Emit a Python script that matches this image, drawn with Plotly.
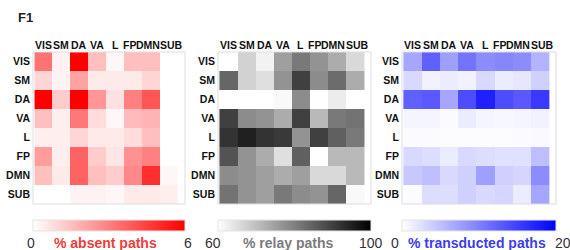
import plotly.graph_objects as go

networks = ["VIS", "SM", "DA", "VA", "L", "FP", "DMN", "SUB"]
# small horizontal nudges (px) of the printed column labels, which are unevenly spaced in the original
col_label_shift = [0, 0, 0, 0, 0, -4, -3.5, 2.5]

# % absent paths (rows = source, cols = target)
absent = [
    [3.3, 0.3, 6.0, 1.5, 0.2, 1.5, 1.5, 0.0],
    [1.0, 0.3, 2.2, 0.5, 0.5, 0.5, 1.0, 0.0],
    [6.0, 1.2, 6.0, 2.5, 0.7, 3.0, 4.0, 0.0],
    [1.5, 0.4, 3.2, 0.8, 0.2, 1.6, 1.8, 0.0],
    [0.4, 0.4, 1.0, 0.5, 0.5, 0.8, 1.5, 0.0],
    [2.3, 0.4, 3.7, 1.2, 0.6, 2.6, 3.0, 0.0],
    [1.5, 0.5, 3.7, 1.5, 1.2, 2.8, 4.9, 0.2],
    [0.0, 0.0, 0.3, 0.3, 0.2, 0.5, 0.5, 0.4],
]

# % relay paths
relay = [
    [60, 67, 62, 75, 81, 77, 73, 66],
    [84, 67, 65, 77, 90, 78, 83, 73],
    [60, 60, 60, 61, 78, 60, 63, 60],
    [90, 78, 77, 73, 90, 71, 81, 82],
    [92, 95, 92, 91, 77, 90, 85, 81],
    [87, 77, 73, 65, 85, 60, 71, 71],
    [78, 77, 75, 73, 75, 66, 66, 71],
    [82, 77, 75, 81, 78, 77, 84, 61],
]

# % transducted paths
transducted = [
    [7.0, 12.5, 7.5, 11.0, 9.0, 9.5, 9.0, 6.0],
    [3.0, 1.0, 1.5, 1.0, 3.0, 1.5, 2.0, 3.7],
    [12.5, 13.0, 7.0, 14.0, 17.5, 14.0, 13.0, 15.5],
    [0.8, 0.8, 0.4, 1.5, 0.8, 0.6, 0.8, 1.0],
    [0.3, 0.3, 0.2, 0.2, 0.2, 0.2, 0.3, 0.5],
    [3.0, 2.7, 1.5, 3.0, 2.7, 2.4, 2.4, 5.0],
    [4.3, 5.0, 3.0, 3.7, 7.5, 3.7, 3.3, 9.0],
    [0.2, 2.7, 2.7, 3.7, 3.0, 3.3, 1.5, 7.0],
]

W, H = 570, 250
panels = [
    dict(z=absent, zmin=0, zmax=6, cs=[[0, "#ffffff"], [1, "#ff0000"]],
         x0=33, x1=185, lo="0", hi="6", title="% absent paths", tcol="#f03c3c",
         lox=31, hix=188, tx=105),
    dict(z=relay, zmin=60, zmax=100, cs=[[0, "#ffffff"], [1, "#000000"]],
         x0=218, x1=371, lo="60", hi="100", title="% relay paths", tcol="#7a7a7a",
         lox=213, hix=371, tx=288),
    dict(z=transducted, zmin=0, zmax=20, cs=[[0, "#ffffff"], [1, "#0000ff"]],
         x0=402, x1=556, lo="0", hi="20", title="% transducted paths", tcol="#3c3cf0",
         lox=395, hix=563, tx=477),
]

top, bottom = 52, 204
cb_top, cb_h = 220, 11
tick_font = dict(family="Liberation Sans", size=10.5, color="#111", weight="bold")

fig = go.Figure()
annotations = []
shapes = []
for i, p in enumerate(panels):
    n = "" if i == 0 else str(i + 1)
    fig.add_trace(go.Heatmap(
        z=p["z"], x=networks, y=networks,
        zmin=p["zmin"], zmax=p["zmax"], colorscale=p["cs"],
        xaxis="x" + n, yaxis="y" + n,
        hovertemplate="%{y} → %{x}: %{z}<extra></extra>",
        colorbar=dict(
            orientation="h", lenmode="pixels", len=p["x1"] - p["x0"],
            thickness=cb_h, x=p["x0"] / W, xanchor="left", xpad=0, ypad=0,
            y=1 - cb_top / H, yanchor="top", yref="paper",
            outlinewidth=1, outlinecolor="#e4e4e4",
            showticklabels=False, ticks="",
        ),
    ))
    dom_x = [p["x0"] / W, p["x1"] / W]
    dom_y = [1 - bottom / H, 1 - top / H]
    fig.update_layout(**{
        "xaxis" + n: dict(domain=dom_x, anchor="y" + n, side="top", type="category",
                          showgrid=False, zeroline=False, ticks="", showline=False,
                          showticklabels=False, fixedrange=True),
        "yaxis" + n: dict(domain=dom_y, anchor="x" + n, autorange="reversed", type="category",
                          showgrid=False, zeroline=False, ticks="", showline=False,
                          tickfont=tick_font,
                          ticklabelstandoff=2, fixedrange=True),
    })
    # column labels placed on the category axis
    for name, sh in zip(networks, col_label_shift):
        annotations.append(dict(text=name, x=name, xref="x" + n, y=dom_y[1], yref="paper",
                                xshift=sh, yshift=-1, showarrow=False,
                                xanchor="center", yanchor="bottom", font=tick_font))
    shapes.append(dict(type="rect", xref="paper", yref="paper", x0=dom_x[0], x1=dom_x[1],
                       y0=dom_y[0], y1=dom_y[1], line=dict(color="#dddddd", width=1)))
    ty = 1 - 243 / H
    for txt, xx in ((p["lo"], p["lox"]), (p["hi"], p["hix"])):
        annotations.append(dict(text=txt, x=xx / W, y=ty, xref="paper", yref="paper",
                                showarrow=False, xanchor="center", yanchor="middle",
                                font=dict(family="Liberation Sans", size=14, color="#333")))
    annotations.append(dict(text=p["title"], x=p["tx"] / W, y=ty, xref="paper", yref="paper",
                            showarrow=False, xanchor="center", yanchor="middle",
                            font=dict(family="Liberation Sans", size=14, color=p["tcol"], weight="bold")))

annotations.append(dict(text="F1", x=16 / W, y=1 - 17 / H, xref="paper", yref="paper",
                        showarrow=False, xanchor="left", yanchor="middle",
                        font=dict(family="Liberation Sans", size=13, color="#222", weight="bold")))

fig.update_layout(width=W, height=H, margin=dict(l=0, r=0, t=0, b=0),
                  paper_bgcolor="white", plot_bgcolor="white",
                  annotations=annotations, shapes=shapes, showlegend=False)

fig.write_html("out.html", config={"displayModeBar": False},
               post_script="document.body.style.margin='0';document.body.style.overflow='hidden';")
